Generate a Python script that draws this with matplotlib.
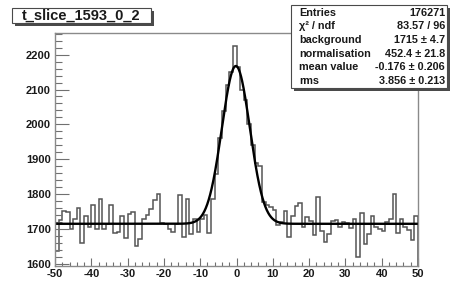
import numpy as np
import matplotlib
matplotlib.use("Agg")
import matplotlib.pyplot as plt
from matplotlib.patches import Rectangle
from matplotlib.ticker import MultipleLocator

# ---- data ----
title = "t_slice_1593_0_2"
bin_lo, bin_hi = -50, 50
counts = [
    1638, 1725, 1752, 1750, 1700, 1730, 1760, 1660, 1738, 1705,
    1768, 1700, 1786, 1700, 1715, 1768, 1690, 1692, 1738, 1675,
    1742, 1748, 1650, 1672, 1730, 1740, 1757, 1784, 1800, 1718,
    1714, 1700, 1691, 1714, 1797, 1677, 1786, 1685, 1728, 1691,
    1730, 1740, 1690, 1785, 1857, 1960, 2038, 2112, 2150, 2226,
    2165, 2100, 2070, 2000, 1940, 1890, 1880, 1778, 1770, 1762,
    1755, 1712, 1720, 1752, 1677, 1738, 1767, 1774, 1705, 1734,
    1723, 1683, 1791, 1695, 1663, 1686, 1723, 1726, 1705, 1719,
    1716, 1702, 1730, 1620, 1746, 1657, 1686, 1736, 1707, 1700,
    1693, 1720, 1730, 1800, 1690, 1729, 1705, 1698, 1669, 1738,
]
fit_background = 1715.0
fit_norm = 452.4
fit_mean = -0.176
fit_rms = 3.856
stats_labels = ["Entries", "\u03c7\u00b2 / ndf", "background", "normalisation", "mean value", "rms"]
stats_values = ["176271", "83.57 / 96", "1715 \u00b1 4.7", "452.4 \u00b1 21.8", "-0.176 \u00b1 0.206", "3.856 \u00b1 0.213"]

plt.rcParams['font.family'] = ['Liberation Sans', 'DejaVu Sans']
plt.rcParams['axes.unicode_minus'] = False

W, H = 450, 282
fig = plt.figure(figsize=(W / 100, H / 100), dpi=100)
fig.patch.set_facecolor('white')

ax = fig.add_axes([55 / W, 1 - 266 / H, (418 - 55) / W, (266 - 33) / H])
edges = np.arange(bin_lo, bin_hi + 1)
ax.stairs(counts, edges, color='#555555', linewidth=1.1)

xf = np.linspace(bin_lo, bin_hi, 1000)
yf = fit_background + fit_norm * np.exp(-0.5 * ((xf - fit_mean) / fit_rms) ** 2)
ax.plot(xf, yf, color='black', linewidth=1.7)

ax.set_xlim(bin_lo, bin_hi)
ax.set_ylim(1594, 2262)
ax.xaxis.set_major_locator(MultipleLocator(10))
ax.xaxis.set_minor_locator(MultipleLocator(2))
ax.yaxis.set_major_locator(MultipleLocator(100))
ax.yaxis.set_minor_locator(MultipleLocator(20))
ax.tick_params(axis='both', which='both', direction='in', colors='#707070',
               labelcolor='#1a1a1a', labelsize=8.0)
ax.tick_params(axis='y', which='both', pad=3)
ax.tick_params(axis='x', which='both', pad=2)
ax.tick_params(axis='y', which='major', length=10, width=0.8)
ax.tick_params(axis='y', which='minor', length=5, width=0.8)
ax.tick_params(axis='x', which='major', length=6, width=0.8)
ax.tick_params(axis='x', which='minor', length=3, width=0.8)
for lab in ax.get_xticklabels() + ax.get_yticklabels():
    lab.set_fontweight('bold')
for s in ax.spines.values():
    s.set_color('#8a8a8a')
    s.set_linewidth(1.0)

def px_rect(x0, y0, x1, y1, **kw):
    return Rectangle((x0 / W, 1 - y1 / H), (x1 - x0) / W, (y1 - y0) / H,
                     transform=fig.transFigure, **kw)

# title box with shadow
fig.patches.append(px_rect(15, 11, 154, 26, facecolor='#4a4a4a', edgecolor='none', zorder=5))
fig.patches.append(px_rect(12, 8, 151, 23, facecolor='white', edgecolor='#4a4a4a', linewidth=0.8, zorder=6))
fig.text(81.5 / W, 1 - 15.8 / H, title, ha='center', va='center', fontsize=10.5,
         fontweight='bold', color='#1a1a1a', zorder=7)

# stats box with shadow
fig.patches.append(px_rect(294, 8, 450, 91, facecolor='#4a4a4a', edgecolor='none', zorder=5))
fig.patches.append(px_rect(291, 5, 447, 88, facecolor='white', edgecolor='#4a4a4a', linewidth=0.8, zorder=6))
for i, (lab, val) in enumerate(zip(stats_labels, stats_values)):
    yc = 12.5 + i * 13.7
    fig.text(299 / W, 1 - yc / H, lab, ha='left', va='center', fontsize=7.8,
             fontweight='bold', color='#1a1a1a', zorder=7)
    fig.text(445 / W, 1 - yc / H, val, ha='right', va='center', fontsize=7.8,
             fontweight='bold', color='#1a1a1a', zorder=7)

fig.savefig('out.png', dpi=100)
